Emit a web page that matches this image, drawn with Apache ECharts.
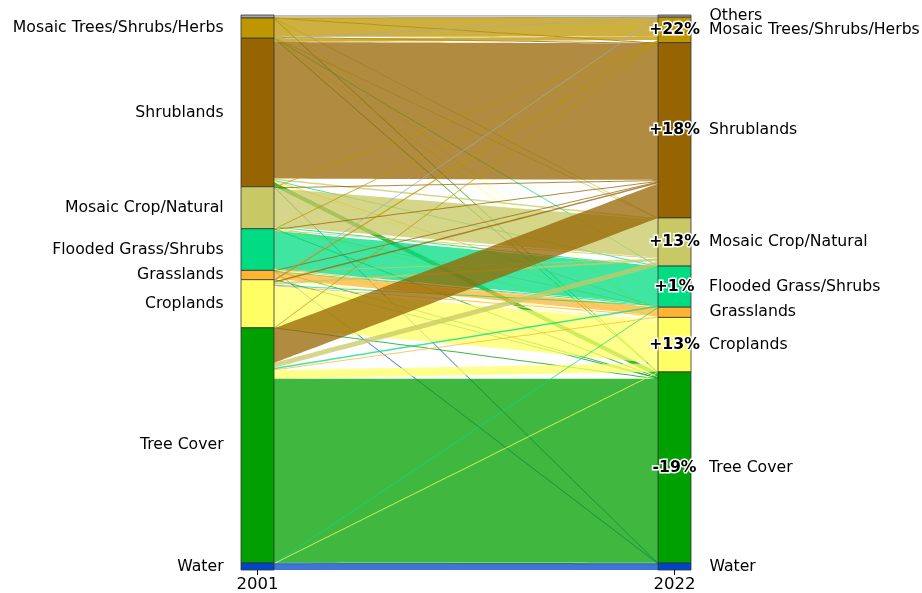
<!DOCTYPE html>
<html>
<head>
<meta charset="utf-8">
<title>Land cover change 2001 - 2022</title>
<script src="https://cdn.jsdelivr.net/npm/echarts@6/dist/echarts.min.js"></script>
<style>
  html, body { margin: 0; padding: 0; background: #fff; }
  #chart { width: 922px; height: 593px; }
</style>
</head>
<body>
<div id="chart"></div>
<script>
  var years = ['2001', '2022'];
  var classes = ['Others', 'Mosaic Trees/Shrubs/Herbs', 'Shrublands', 'Mosaic Crop/Natural',
    'Flooded Grass/Shrubs', 'Grasslands', 'Croplands', 'Tree Cover', 'Water'];
  // change between the two years, as printed on the 2022 column
  var changeLabels = ['', '+22%', '+18%', '+13%', '+1%', '', '+13%', '-19%', ''];

  // area moving from a 2001 class (row) to each 2022 class (same order as classes)
  var fromOthers = [1.8, 0.6, 0.3, 0.1, 0, 0, 0.1, 0.1, 0];
  var fromMosaicTrees = [0.1, 18.6, 0.4, 0.2, 0.1, 0, 0.2, 0.6, 0];
  var fromShrublands = [0.2, 3.5, 136.5, 1.5, 0.3, 0.3, 1.5, 4.5, 0.1];
  var fromMosaicCrop = [0, 0.5, 1.0, 38, 0.3, 0.2, 1.5, 0.5, 0];
  var fromFlooded = [0, 0.2, 0.7, 1.0, 38, 0.2, 1.2, 0.2, 0.1];
  var fromGrasslands = [0, 0, 0.3, 0.3, 0.2, 7.5, 0.4, 0.6, 0];
  var fromCroplands = [0.1, 1.5, 1.5, 2.0, 0.5, 1.0, 41, 0.5, 0];
  var fromTreeCover = [0, 0.5, 34.5, 5, 1.5, 1.0, 8.5, 183.5, 0.5];
  var fromWater = [0, 0, 0, 0, 0.2, 0, 0.1, 0.5, 6.2];
  var flows = [fromOthers, fromMosaicTrees, fromShrublands, fromMosaicCrop, fromFlooded,
    fromGrasslands, fromCroplands, fromTreeCover, fromWater];

  var classColors = ['#a8a8a8', '#be9600', '#966400', '#c8c864', '#00dc82',
    '#ffb432', '#ffff64', '#00a000', '#0046c8'];

  var font = 'DejaVu Sans';
  var fontSize = 15.7;

  var nodes = [];
  years.forEach(function (year, col) {
    classes.forEach(function (cls, i) {
      var node = {
        name: cls + ' ' + year,
        depth: col,
        itemStyle: { color: classColors[i] }
      };
      if (col === 0) {
        node.label = i === 0
          ? { show: false }
          : { position: 'left', distance: 17, formatter: cls };
      } else if (changeLabels[i]) {
        node.label = {
          position: ['50%', '50%'],
          align: 'left',
          verticalAlign: 'middle',
          offset: [-30, 0],
          formatter: '{p|' + changeLabels[i] + '}{n|' + cls + '}'
        };
      } else {
        node.label = { position: 'right', distance: 18, formatter: cls };
      }
      nodes.push(node);
    });
  });

  var links = [];
  flows.forEach(function (row, i) {
    row.forEach(function (v, j) {
      if (v > 0) {
        links.push({
          source: classes[i] + ' ' + years[0],
          target: classes[j] + ' ' + years[1],
          value: v,
          lineStyle: { color: classColors[j] }
        });
      }
    });
  });

  var chart = echarts.init(document.getElementById('chart'));
  chart.setOption({
    backgroundColor: '#fff',
    animation: false,
    grid: { left: 257.5, right: 247.5, top: 560, bottom: 23 },
    xAxis: {
      type: 'category',
      data: years,
      boundaryGap: false,
      axisLine: { show: false },
      axisTick: { show: true, length: 5, lineStyle: { color: '#000' } },
      axisLabel: { margin: 6, color: '#000', fontFamily: font, fontSize: 16.5 },
      splitLine: { show: false }
    },
    yAxis: { type: 'value', show: false },
    series: [{
      type: 'sankey',
      left: 241,
      right: 231,
      top: 15,
      bottom: 23,
      nodeWidth: 33,
      nodeGap: 0,
      layoutIterations: 0,
      draggable: false,
      emphasis: { disabled: true },
      data: nodes,
      links: links,
      itemStyle: { borderColor: '#333', borderWidth: 0.8 },
      lineStyle: { curveness: 0, opacity: 0.75 },
      label: {
        color: '#000',
        fontFamily: font,
        fontSize: fontSize,
        rich: {
          p: {
            width: 60,
            align: 'center',
            fontWeight: 'bold',
            fontFamily: font,
            fontSize: fontSize,
            color: '#000',
            textBorderColor: '#fff',
            textBorderWidth: 3
          },
          n: {
            padding: [0, 0, 0, 4.5],
            fontFamily: font,
            fontSize: fontSize,
            color: '#000'
          }
        }
      }
    }]
  });
</script>
</body>
</html>
